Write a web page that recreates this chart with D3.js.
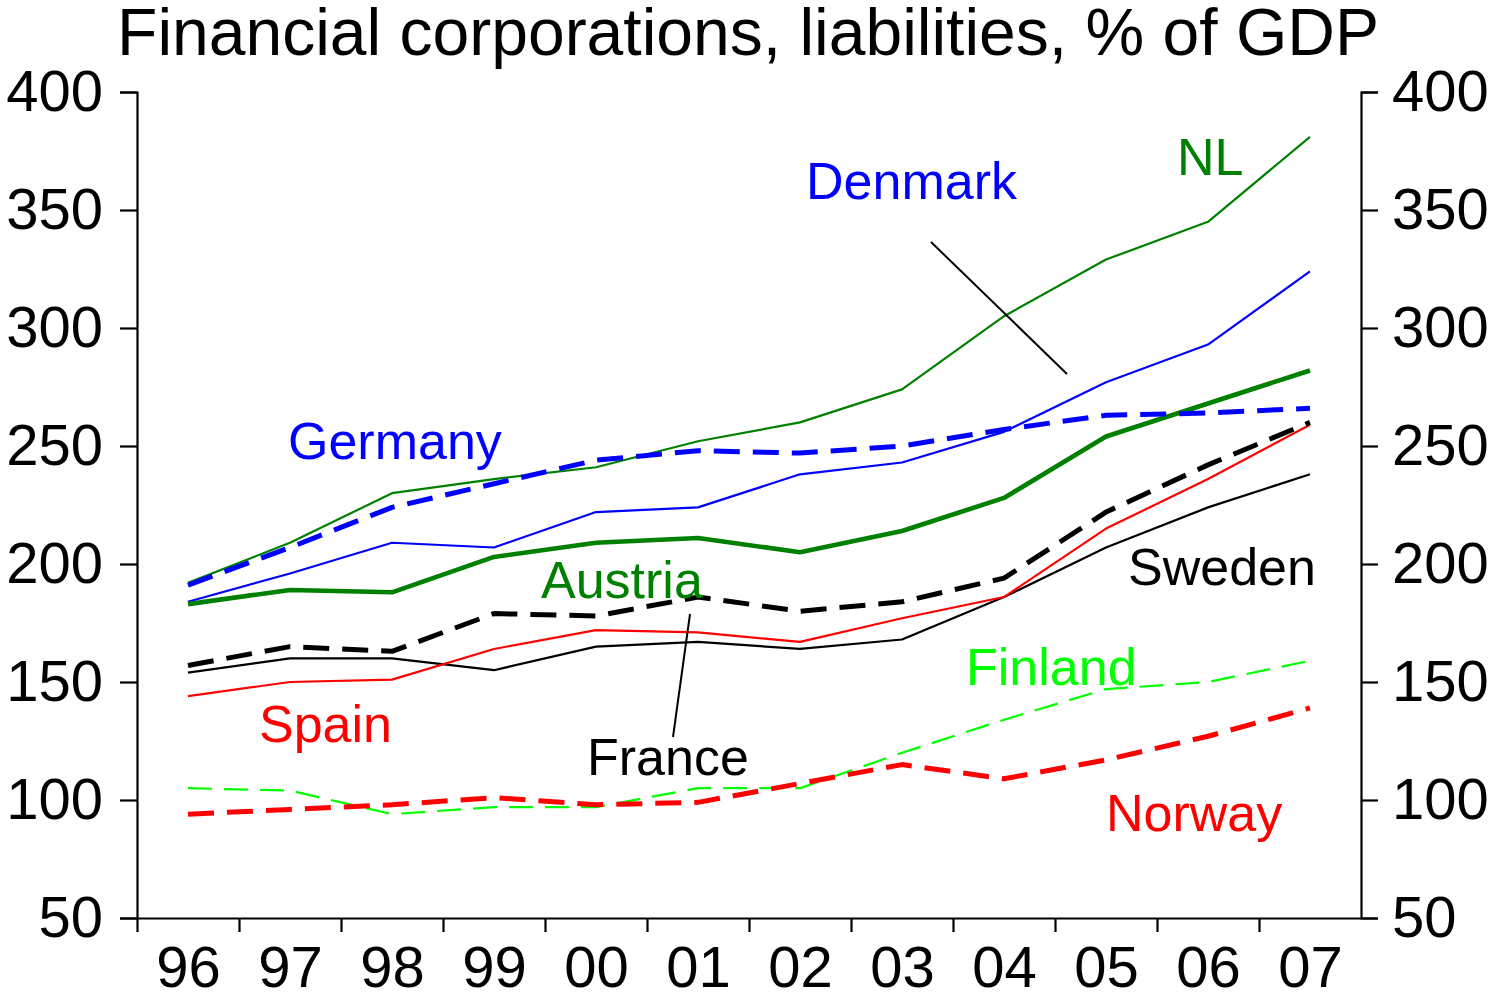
<!DOCTYPE html>
<html>
<head>
<meta charset="utf-8">
<script src="https://cdn.jsdelivr.net/npm/d3@7"></script>
<style>
  body { margin: 0; background: #fff; }
  svg text { font-family: "Liberation Sans", Arial, sans-serif; }
</style>
</head>
<body>
<div id="chart"></div>
<script>
const years = ["96", "97", "98", "99", "00", "01", "02", "03", "04", "05", "06", "07"];
const yTicks = [50, 100, 150, 200, 250, 300, 350, 400];

const nl      = [192, 209, 230, 236, 241, 252, 260, 274, 305, 329, 345, 381];
const denmark = [184, 196, 209, 207, 222, 224, 238, 243, 256, 277, 293, 324];
const germany = [191, 207, 224, 234, 244, 248, 247, 250, 257, 263, 264, 266];
const austria = [183, 189, 188, 203, 209, 211, 205, 214, 228, 254, 268, 282];
const france  = [157, 165, 163, 179, 178, 186, 180, 184, 194, 222, 242, 260];
const spain   = [144, 150, 151, 164, 172, 171, 167, 177, 186, 215, 236, 259];
const sweden  = [154, 160, 160, 155, 165, 167, 164, 168, 186, 207, 224, 238];
const finland = [105, 104, 94, 97, 97, 105, 105, 120, 134, 147, 150, 159];
const norway  = [94, 96, 98, 101, 98, 99, 107, 115, 109, 117, 127, 139];

const series = [
    {name: "NL", values: nl, color: "#008000", width: 2.2, dash: null},
    {name: "Denmark", values: denmark, color: "#0000ff", width: 2.2, dash: null},
    {name: "Austria", values: austria, color: "#008000", width: 4.6, dash: null},
    {name: "Sweden", values: sweden, color: "#000000", width: 2.2, dash: null},
    {name: "Spain", values: spain, color: "#ff0000", width: 2.2, dash: null},
    {name: "Finland", values: finland, color: "#00ff00", width: 2.2, dash: "24,12"},
    {name: "Germany", values: germany, color: "#0000ff", width: 5, dash: "26,13"},
    {name: "France", values: france, color: "#000000", width: 5, dash: "26,13"},
    {name: "Norway", values: norway, color: "#ff0000", width: 5, dash: "26,13"}
];

const labels = [
    {text: "Denmark", x: 806, y: 199, color: "#0000ff"},
    {text: "NL", x: 1177, y: 175, color: "#008000"},
    {text: "Germany", x: 288, y: 459, color: "#0000ff"},
    {text: "Austria", x: 541, y: 598, color: "#008000"},
    {text: "Sweden", x: 1128, y: 585, color: "#000000"},
    {text: "Finland", x: 966, y: 685, color: "#00ff00"},
    {text: "Spain", x: 259, y: 742, color: "#ff0000"},
    {text: "France", x: 587, y: 775, color: "#000000"},
    {text: "Norway", x: 1106, y: 831, color: "#ff0000"}
];

const leaders = [
    [[931, 242], [1067, 374]],
    [[690, 614], [673, 737]]
];

const width = 1490, height = 993;
const margin = {left: 137, right: 1361, top: 92, bottom: 918};

const svg = d3.select("#chart").append("svg")
    .attr("width", width)
    .attr("height", height);

const x = d3.scalePoint()
    .domain(years)
    .range([margin.left, margin.right])
    .padding(0.5);

const xEdge = d3.scaleLinear()
    .domain([0, years.length])
    .range([margin.left, margin.right]);

const y = d3.scaleLinear()
    .domain([50, 400])
    .range([margin.bottom, margin.top]);

svg.append("text")
    .attr("x", 748)
    .attr("y", 55)
    .attr("text-anchor", "middle")
    .style("font-size", "66px")
    .text("Financial corporations, liabilities, % of GDP");

// axes
const yLeft = d3.axisLeft(y).tickValues(yTicks).tickSize(17).tickPadding(17);
const yRight = d3.axisRight(y).tickValues(yTicks).tickSize(17).tickPadding(14);

svg.append("g")
    .attr("class", "axis")
    .attr("transform", `translate(${margin.left},0)`)
    .call(yLeft);

svg.append("g")
    .attr("class", "axis")
    .attr("transform", `translate(${margin.right},0)`)
    .call(yRight);

svg.append("g")
    .attr("class", "axis")
    .attr("transform", `translate(0,${margin.bottom})`)
    .call(d3.axisBottom(xEdge)
        .tickValues(d3.range(years.length))
        .tickSizeInner(14)
        .tickSizeOuter(0)
        .tickFormat(""));

svg.append("g")
    .attr("class", "axis xlabels")
    .attr("transform", `translate(0,${margin.bottom})`)
    .call(d3.axisBottom(x).tickSize(0).tickPadding(28));

svg.selectAll(".axis text")
    .style("font-size", "58px")
    .style("font-family", "'Liberation Sans', Arial, sans-serif")
    .attr("fill", "#000");
svg.selectAll(".axis line").attr("stroke", "#000").attr("stroke-width", 2.2);
svg.selectAll(".axis path.domain").attr("stroke", "#000").attr("stroke-width", 2.2);
svg.selectAll(".xlabels path.domain").remove();

// lines
const line = d3.line()
    .x((d, i) => x(years[i]))
    .y(d => y(d));

svg.append("g").selectAll("path")
    .data(series)
    .join("path")
    .attr("d", d => line(d.values))
    .attr("fill", "none")
    .attr("stroke", d => d.color)
    .attr("stroke-width", d => d.width)
    .attr("stroke-dasharray", d => d.dash)
    .attr("stroke-linejoin", "round");

svg.append("g").selectAll("line")
    .data(leaders)
    .join("line")
    .attr("x1", d => d[0][0])
    .attr("y1", d => d[0][1])
    .attr("x2", d => d[1][0])
    .attr("y2", d => d[1][1])
    .attr("stroke", "#000")
    .attr("stroke-width", 2);

svg.append("g").selectAll("text")
    .data(labels)
    .join("text")
    .attr("x", d => d.x)
    .attr("y", d => d.y)
    .attr("fill", d => d.color)
    .style("font-size", "52px")
    .text(d => d.text);
</script>
</body>
</html>
